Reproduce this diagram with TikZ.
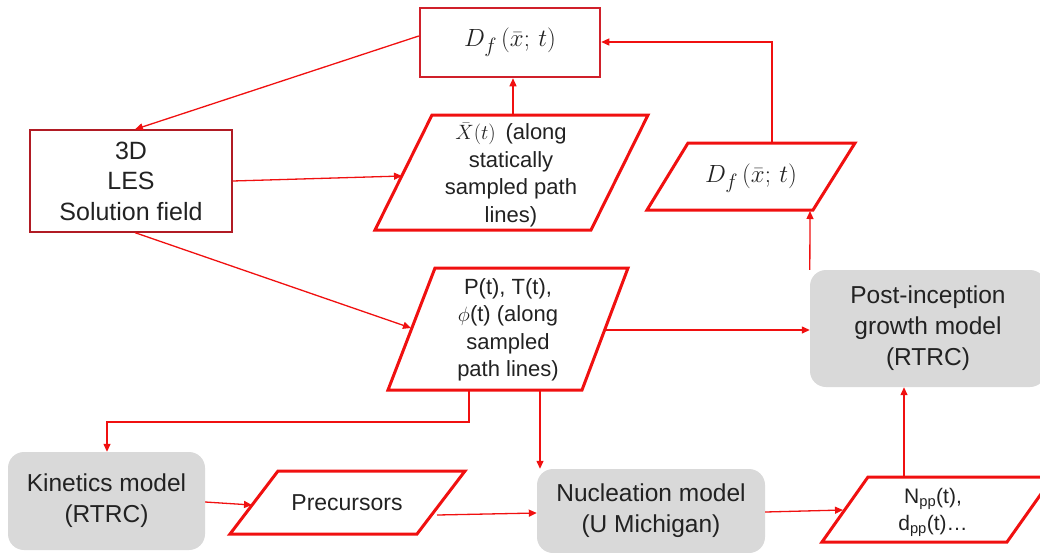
\documentclass[tikz,border=0pt]{standalone}
\usepackage{fontspec}
\setmainfont{Liberation Sans}
\usetikzlibrary{arrows.meta}
\definecolor{lred}{HTML}{F01010}
\definecolor{dred}{HTML}{D0202A}
\definecolor{boxgray}{HTML}{D9D9D9}
\definecolor{txt}{HTML}{222222}
\begin{document}
\begin{tikzpicture}[x=1pt,y=-1pt,
  conn/.style={draw=lred,line width=1.3pt,-{Triangle[length=8pt,width=7pt]}},
  pgram/.style={draw=lred,line width=3pt,line join=miter},
  txtnode/.style={text=txt,align=center,inner sep=0pt},
  midtxt/.style={txtnode,font=\fontsize{22}{27.5}\selectfont},
  graybox/.style={fill=boxgray,rounded corners=16pt,inner sep=0pt,text=txt,align=center,font=\fontsize{24.5}{31}\selectfont},
]
\useasboundingbox (0,0) rectangle (1040,552);
\clip (0,0) rectangle (1040,552);

% top D_f box
\node[draw=dred,line width=2.5pt,minimum width=180pt,minimum height=69pt,inner sep=0pt,
  font=\fontsize{28}{30}\selectfont,text=txt] (dftop) at (510,42.5) {$D_{f}\,(\bar{x};\,t)$};

% 3D LES box
\node[draw=dred!85!black,line width=1.3pt,minimum width=202pt,minimum height=102pt,inner sep=0pt,
  txtnode,font=\fontsize{25}{30.5}\selectfont] (les) at (131,181) {3D\\LES\\Solution field};

% X bar parallelogram
\draw[pgram] (375,230) -- (432,115) -- (648,115) -- (591,230) -- cycle;
\node[midtxt] (xbar) at (511,175) {$\bar{X}(t)$\, (along\\statically\\sampled path\\lines)};

% P(t) parallelogram
\draw[pgram] (388,390) -- (435,268) -- (628,268) -- (582,390) -- cycle;
\node[midtxt] (ptt) at (508,330) {P(t), T(t),\\$\phi$(t) (along\\sampled\\path lines)};

% D_f right parallelogram
\draw[pgram] (647,210) -- (688,143) -- (855,143) -- (813,210) -- cycle;
\node[txtnode,font=\fontsize{28}{30}\selectfont] (dfr) at (751,178) {$D_{f}\,(\bar{x};\,t)$};

% Post-inception
\node[graybox,minimum width=236pt,minimum height=117pt] (post) at (928,328.5) {Post-inception\\growth model\\(RTRC)};

% Kinetics
\node[graybox,minimum width=197pt,minimum height=98pt] (kin) at (106.5,501) {Kinetics model\\(RTRC)};

% Precursors
\draw[pgram] (230,534) -- (278,471) -- (465,471) -- (417,534) -- cycle;
\node[txtnode,font=\fontsize{23}{28}\selectfont] (prec) at (347,503) {Precursors};

% Nucleation
\node[graybox,minimum width=228pt,minimum height=84pt] (nuc) at (651,511) {Nucleation model\\(U Michigan)};

% N_pp
\draw[pgram] (822,542) -- (868,477) -- (1053,477) -- (1007,542) -- cycle;
\node[txtnode,font=\fontsize{21}{27}\selectfont] (npp) at (933,512) {N\textsubscript{pp}(t),\\d\textsubscript{pp}(t)\ldots};

% connector end points on parallelogram edges
\coordinate (xbarTop) at (513,115);
\coordinate (xbarLeft) at (402,176);
\coordinate (pttLeft) at (411,328);
\coordinate (pttRight) at (604,330);
\coordinate (pttBotA) at (469,390);
\coordinate (pttBotB) at (540,390);
\coordinate (dfrBot) at (810,211);
\coordinate (dfrTop) at (772,143);
\coordinate (precLeft) at (252,505);
\coordinate (precRight) at (437,515);
\coordinate (nppLeft) at (843,510);
\coordinate (nppTop) at (904,477);

% connectors
\draw[conn] (dftop.west |- 0,36) -- (les.north -| 135,0);
\draw[conn] (xbarTop) -- (dftop.south -| xbarTop);
\draw[conn] (les.east |- 0,181) -- (xbarLeft);
\draw[conn] (les.south -| 135,0) -- (pttLeft);
\draw[conn] (pttRight) -- (post.west |- pttRight);
\draw[conn] (post.north west) -- (dfrBot);
\draw[conn] (dfrTop) |- (dftop.east |- 0,42);
\draw[conn] (pttBotA) -- (469,422) -| (kin.north -| 107,0);
\draw[conn] (pttBotB) -- (nuc.north -| pttBotB);
\draw[conn] (kin.east |- 0,502) -- (precLeft);
\draw[conn] (precRight) -- (nuc.west |- 0,513);
\draw[conn] (nuc.east |- 0,512) -- (nppLeft);
\draw[conn] (nppTop) -- (post.south -| nppTop);
\end{tikzpicture}
\end{document}
